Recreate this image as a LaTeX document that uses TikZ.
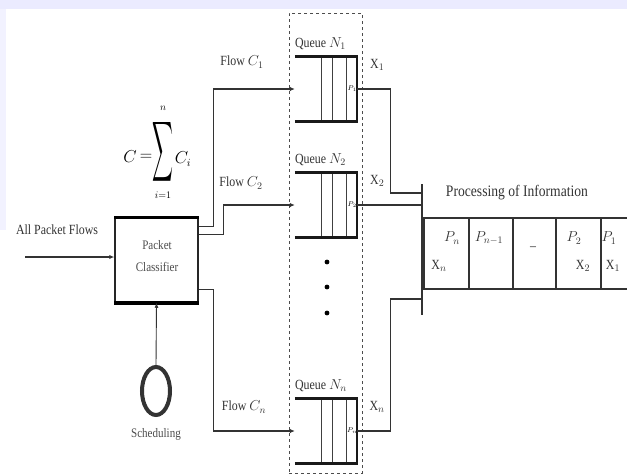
\documentclass[tikz,border=0pt]{standalone}
\usepackage{fontspec}
\setmainfont{Liberation Serif}[FakeStretch=0.85]
\usetikzlibrary{arrows.meta,calc,shapes.geometric}
\begin{document}
\begin{tikzpicture}[x=1pt,y=-1pt,
  lbl/.style={font=\fontsize{14}{15}\selectfont, inner sep=0pt, text=black!80},
  wire/.style={line width=1.3pt, draw=black!80},
  arr/.style={wire,-{Latex[length=5pt,width=4.5pt]}},
  bar/.style={line width=3pt, draw=black!90},
  slot/.style={line width=1pt, draw=black!75},
  cell/.style={draw=black!80, line width=1.5pt, minimum height=71pt, inner sep=0pt, anchor=north west},
  qbox/.style={minimum width=62pt, minimum height=64pt, inner sep=0pt},
]
\useasboundingbox (0,0) rectangle (627,475);
\fill[white] (0,0) rectangle (627,475);
\fill[blue!8] (0,0) rectangle (627,9);
\fill[blue!5] (0,9) rectangle (6,230);

% dashed container
\node[draw=black!70, dashed, line width=0.8pt, minimum width=73pt, minimum height=460pt, inner sep=0pt] (dbox) at (325.5,243) {};

% queues
\foreach \nm/\yy/\sub in {q1/89/1, q2/205/2, qn/431/n} {
  \node[qbox] (\nm) at (326,\yy) {};
  \draw[slot] ($(\nm.north west)+(27,0)$) -- ($(\nm.south west)+(27,0)$);
  \draw[slot] ($(\nm.north west)+(38,0)$) -- ($(\nm.south west)+(38,0)$);
  \draw[slot] ($(\nm.north west)+(52,0)$) -- ($(\nm.south west)+(52,0)$);
  \draw[line width=2.5pt, draw=black!90] (\nm.north east) -- (\nm.south east);
  \draw[bar] (\nm.north west) -- ([xshift=1.25pt]\nm.north east);
  \draw[bar] (\nm.south west) -- ([xshift=1.25pt]\nm.south east);
  \node[font=\scriptsize, inner sep=0pt] (p\nm) at ($(\nm.east)+(-5,0)$) {$P_\sub$};
  \node[lbl, anchor=south west] (l\nm) at ($(\nm.north west)+(0,-7)$) {Queue $N_\sub$};
  \node[lbl] (x\nm) at ($(\nm.north east)+(20,8)$) {X$_\sub$};
}

% dots
\node[circle, fill=black, inner sep=1.7pt] (d1) at (327,262) {};
\node[circle, fill=black, inner sep=1.7pt] (d2) at (327,287) {};
\node[circle, fill=black, inner sep=1.7pt] (d3) at (327,313) {};

% packet classifier
\node[draw=black!85, line width=1.5pt, minimum width=83pt, minimum height=84pt, inner sep=0pt] (pc) at (156.5,260) {};
\draw[line width=3.5pt] (pc.north west) -- (pc.north east);
\draw[line width=3.5pt] (pc.south west) -- (pc.south east);
\node[lbl, align=center, font=\fontsize{13}{22}\selectfont, text=black!70] (pct) at (157,256) {Packet\\Classifier};

% input
\node[lbl] (apf) at (57,230) {All Packet Flows};
\coordinate (inp) at (25,257);
\draw[arr] (inp) -- (inp -| pc.west);

% sum formula
\node[inner sep=0pt, font=\fontsize{16}{18}\selectfont] (sC) at (130,157) {$C$};
\node[inner sep=0pt, font=\fontsize{16}{18}\selectfont] (sEq) at (146,157) {$=$};
\node[inner sep=0pt] (sSig) at (163,152) {\scalebox{1.45}[4.2]{$\displaystyle\sum$}};
\node[inner sep=0pt, font=\fontsize{10}{11}\selectfont, anchor=south] (sN) at (163,111) {$n$};
\node[inner sep=0pt, font=\fontsize{10}{11}\selectfont, anchor=north] (sI) at (163,192) {$i{=}1$};
\node[inner sep=0pt, font=\fontsize{16}{18}\selectfont] (sCi) at (183,159) {$C_i$};

% flows
\draw[arr] ([yshift=-9pt]pc.north east) -- ++(15,0) |- (q1.west);
\draw[arr] ([yshift=-17pt]pc.north east) -- ++(25,0) |- (q2.west);
\draw[arr] ([yshift=13pt]pc.south east) -- ++(15,0) |- (qn.west);
\node[lbl] (f1) at (242,62) {Flow $C_1$};
\node[lbl] (f2) at (241,183) {Flow $C_2$};
\node[lbl] (fn) at (244,407) {Flow $C_n$};

% scheduling
\node[ellipse, draw=black!80, line width=4pt, minimum width=28pt, minimum height=48pt, inner sep=0pt] (sch) at (156,391) {};
\draw[line width=0.9pt, draw=black!80, -{Latex[length=5pt,width=4pt]}] (sch.north) -- (pc.south);
\node[lbl, font=\fontsize{13}{14}\selectfont, text=black!70] (schl) at (156,434) {Scheduling};

% processing table
\coordinate (bt) at (422,184);
\coordinate (bb) at (422,315);
\draw[line width=2pt, draw=black!80] (bt) -- (bb);
\node[lbl, font=\fontsize{16}{17}\selectfont] (proc) at (517,193) {Processing of Information};
\node[cell, minimum width=45pt] (c1) at (423,217) {};
\node[cell, minimum width=44pt] (c2) at (468,217) {};
\node[cell, minimum width=43pt] (c3) at (512,217) {};
\node[cell, minimum width=45pt] (c4) at (555,217) {};
\node[cell, minimum width=45pt] (c5) at (600,217) {};
\node[lbl] (c1p) at (452,238) {$P_n$};
\node[lbl] (c1x) at (439,266) {X$_n$};
\node[lbl] (c2p) at (489,238) {$P_{n-1}$};
\node[lbl] (c3d) at (533,249) {--};
\node[lbl] (c4p) at (574,238) {$P_2$};
\node[lbl] (c4x) at (583,266) {X$_2$};
\node[lbl] (c5p) at (609,238) {$P_1$};
\node[lbl] (c5x) at (613,266) {X$_1$};

% outputs
\draw[wire] (q1.east) -- ++(33,0) |- ([yshift=-9pt]bt);
\draw[wire, line width=1.8pt] (q2.east) -- (q2.east -| bt);
\draw[wire] (qn.east) -- ++(33,0) |- ([yshift=16pt]bb);
\end{tikzpicture}
\end{document}
